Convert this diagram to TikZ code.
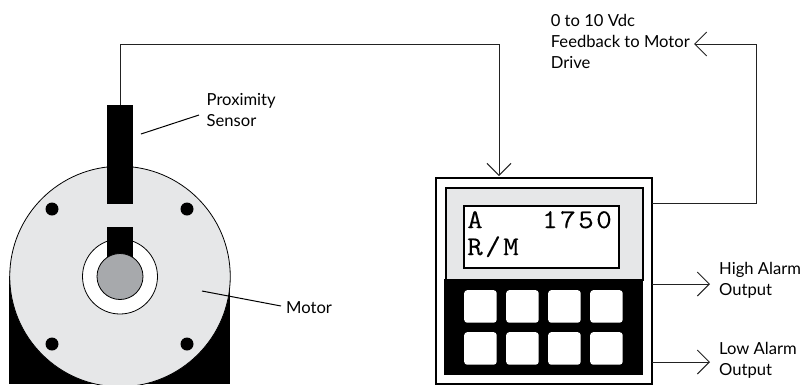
\documentclass[tikz,border=0pt]{standalone}
\usepackage{fontspec}
\setmainfont{Lato}
\newfontfamily\lcdfont[LetterSpace=9,FakeStretch=1.12,FakeBold=0.2]{Latin Modern Mono}
\usetikzlibrary{arrows.meta,positioning}
\definecolor{discgray}{HTML}{E6E7E8}
\definecolor{shaftgray}{HTML}{A7A9AC}
\definecolor{wirecol}{HTML}{222222}
\tikzset{
  wire/.style={draw=wirecol,line width=1pt},
  barb/.style={wire,-{Straight Barb[length=12pt,width=24pt,line width=1pt]}},
  leader/.style={draw=black,line width=1pt},
  label/.style={font=\fontsize{16.6}{21}\selectfont,align=left,anchor=west,inner sep=0pt,text=black},
  lcd/.style={font=\fontsize{27}{27}\lcdfont,anchor=base west,inner sep=0pt,text=black},
  blackbox/.style={fill=black,draw=none,inner sep=0pt,minimum width=25.5pt},
  bolt/.style={circle,fill=black,inner sep=0pt,minimum size=13pt},
  keybtn/.style={fill=white,draw=none,rounded corners=3pt,inner sep=0pt,minimum width=32.5pt,minimum height=32.5pt},
}
\begin{document}
\begin{tikzpicture}[x=1pt,y=-1pt]
\useasboundingbox (0,0) rectangle (804,384);
\clip (0,0) rectangle (804,384);
% motor
\fill[black] (9,276) rectangle (230,384);
\node[circle,draw=black,line width=0.8pt,fill=discgray,minimum size=220.5pt,inner sep=0pt] (disc) at (120,276.5) {};
\node[circle,draw=black,line width=0.8pt,fill=white,minimum size=75pt,inner sep=0pt] (bore) at (120,276.5) {};
\node[blackbox,minimum height=32pt,anchor=north] (key) at (120,227) {};
\node[circle,draw=black,line width=0.8pt,fill=shaftgray,minimum size=46pt,inner sep=0pt] (shaft) at (120,276.5) {};
\node[blackbox,minimum height=99pt,anchor=north] (sensor) at (120,105) {};
\node[bolt] (b1) at (52,209) {};
\node[bolt] (b2) at (187,209) {};
\node[bolt] (b3) at (52,344) {};
\node[bolt] (b4) at (187,344) {};
% controller
\node[draw=black,line width=1.6pt,fill=white,inner sep=0pt,minimum width=216pt,minimum height=206pt,anchor=north west] (ctrl) at (435,177) {};
\node[fill=discgray,draw=black,line width=1.6pt,inner sep=0pt,minimum width=197pt,minimum height=92pt,anchor=north west] (panel) at (445,187) {};
\node[fill=black,inner sep=0pt,minimum width=198.5pt,minimum height=96pt,anchor=north west] (pad) at (444.2,279) {};
\node[fill=white,draw=black,line width=1.6pt,inner sep=0pt,minimum width=155pt,minimum height=62pt,anchor=north west] (display) at (463,205) {};
\node[lcd] (la) at (467,228) {A};
\node[lcd] (ln) at (542,228) {1750};
\node[lcd] (lr) at (467,255) {R/M};
\foreach \n/\x in {a/464,b/506,c/548,d/590}{
  \node[keybtn,anchor=north west] (k1\n) at (\x,290) {};
  \node[keybtn,anchor=north west] (k2\n) at (\x,332) {};
}
% labels
\node[label] (prox) at (206.5,110) {Proximity\\Sensor};
\node[label] (motor) at (286,308) {Motor};
\node[label,anchor=east] (fb) at (690,41.5) {0 to 10 Vdc\\Feedback to Motor\\Drive};
\node[label] (high) at (719,280.5) {High Alarm\\Output};
\node[label] (low) at (719,360.5) {Low Alarm\\Output};
% connectors
\coordinate (inTop) at (499,44);
\coordinate (inTip) at (499,176);
\coordinate (fbOut) at (651.8,203);
\coordinate (fbCorner) at (756,203);
\coordinate (fbTip) at (694,44);
\coordinate (hiOut) at (651.8,284);
\coordinate (hiTip) at (710,284);
\coordinate (loOut) at (651.8,362);
\coordinate (loTip) at (710,362);
\draw[barb] (sensor.north) |- (inTop) -- (inTip);
\draw[barb] (fbOut) -- (fbCorner) |- (fbTip);
\draw[barb] (hiOut) -- (hiTip);
\draw[barb] (loOut) -- (loTip);
\coordinate (proxA) at (199,115);
\coordinate (proxB) at (141,134);
\coordinate (motA) at (281,306);
\coordinate (motB) at (202,291);
\draw[leader] (proxA) -- (proxB);
\draw[leader] (motA) -- (motB);
\end{tikzpicture}
\end{document}
